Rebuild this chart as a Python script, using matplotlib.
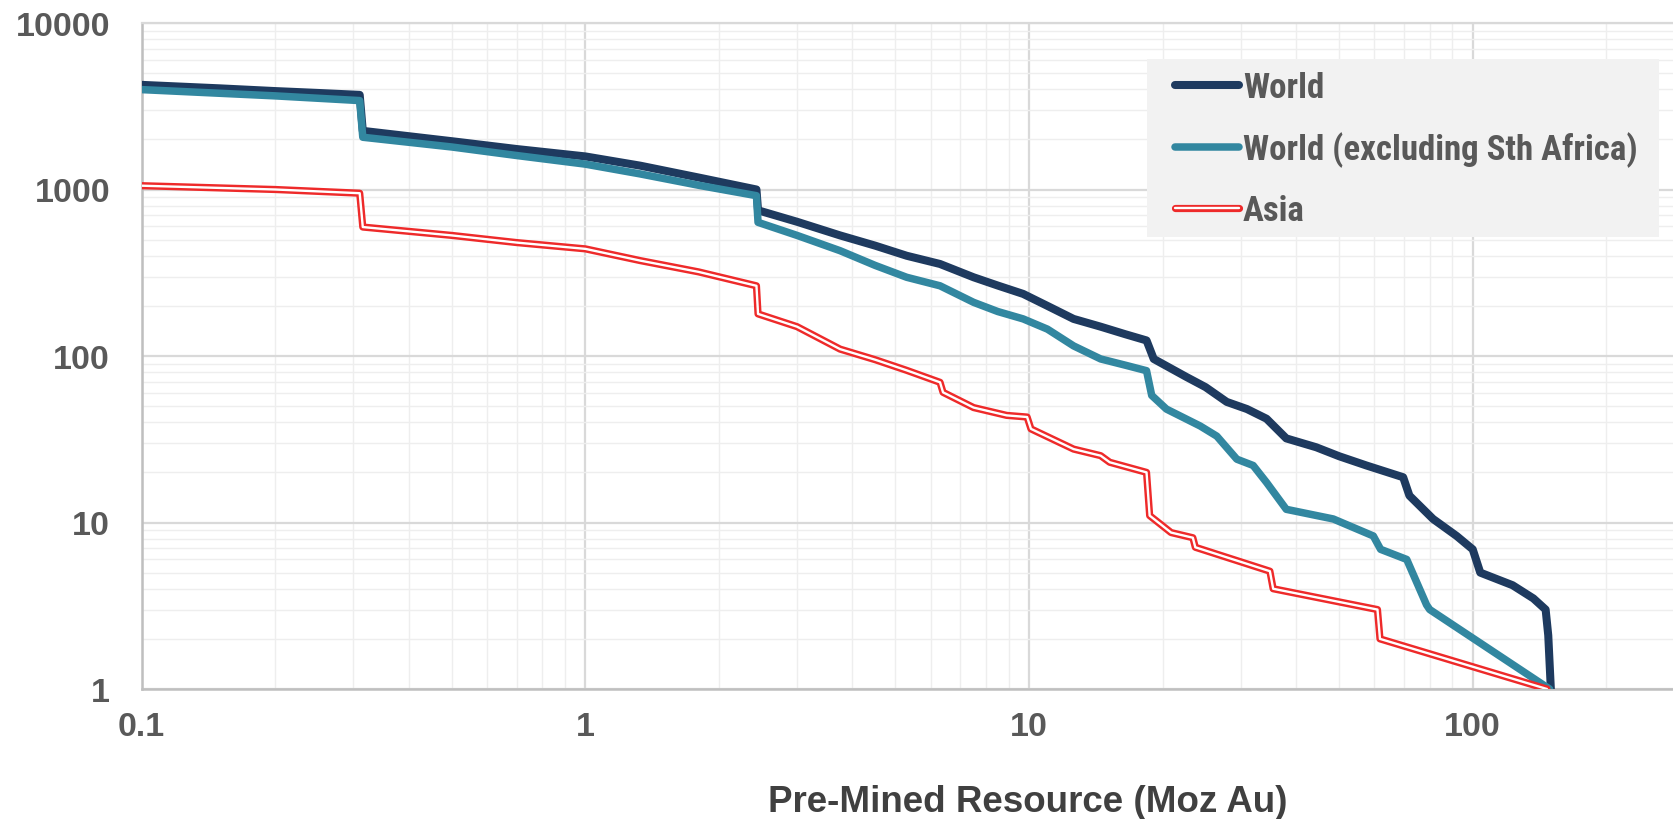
import matplotlib
matplotlib.use("Agg")
import matplotlib.pyplot as plt
from matplotlib import font_manager as fm
from matplotlib import patheffects as pe
from matplotlib.patches import Rectangle
from matplotlib.textpath import TextPath
from matplotlib.ticker import FixedLocator, FixedFormatter, NullFormatter, LogLocator

# ---------------- data ----------------
world_x = [0.1, 0.15, 0.2, 0.25, 0.31, 0.315, 0.5, 0.7, 1.0, 1.33, 1.8, 2.43, 2.45, 3.0,
           3.75, 4.5, 5.3, 6.3, 7.5, 8.5, 9.7, 11, 12.6, 14.5, 16.5, 18.4, 19.1, 22.6, 25,
           27.9, 31, 34.3, 38, 44.4, 50, 57.6, 69.7, 72, 81.4, 92, 100, 104, 123, 137,
           146, 148, 150]
world_y = [4250, 4050, 3900, 3800, 3700, 2250, 1950, 1750, 1580, 1390, 1180, 1000, 750, 640,
           530, 460, 400, 357, 297, 265, 236, 200, 167, 150, 135, 124, 96, 75, 65,
           53, 48, 42, 32, 28.3, 25, 22, 18.7, 14.5, 10.5, 8.3, 6.9, 5.0, 4.2, 3.5,
           3.0, 2.1, 1]

exsa_x = [0.1, 0.2, 0.31, 0.315, 0.5, 0.7, 1.0, 1.33, 1.8, 2.43, 2.45, 3.0, 3.75, 4.5,
          5.3, 6.3, 7.5, 8.5, 9.7, 11, 12.6, 14.5, 16.5, 18.4, 18.9, 20.4, 24.3, 26.5,
          29.4, 32, 34.3, 38, 48.5, 59.7, 62, 71, 78.7, 80, 149]
exsa_y = [3980, 3650, 3420, 2060, 1800, 1600, 1420, 1240, 1060, 918, 635, 530, 429, 350,
          297, 264, 210, 185, 167, 145, 115, 96, 88, 81.6, 58, 48, 38, 33,
          24, 22, 17.4, 12, 10.5, 8.3, 6.9, 6.0, 3.2, 3.0, 1]

asia_x = [0.1, 0.2, 0.31, 0.315, 0.5, 0.7, 1.0, 1.33, 1.8, 2.43, 2.45, 3.0, 3.75, 4.5,
          5.3, 6.3, 6.4, 7.5, 8.9, 9.9, 10.1, 12.6, 14.5, 15.2, 18.4, 18.7, 20.9, 23.4,
          23.7, 34.9, 35.5, 61, 61.8, 147]
asia_y = [1054, 1000, 950, 595, 530, 480, 440, 374, 320, 264, 179, 150, 110, 95,
          82, 69.5, 60.5, 49, 44, 43, 36.5, 27.6, 25.2, 23, 20, 11, 8.7, 8.1,
          7.1, 5.1, 4.0, 3.0, 2.0, 1]

series_labels = ["World", "World (excluding Sth Africa)", "Asia"]
x_ticks = [0.1, 1, 10, 100]
x_ticklabels = ["0.1", "1", "10", "100"]
y_ticks = [1, 10, 100, 1000, 10000]
y_ticklabels = ["1", "10", "100", "1000", "10000"]
x_label = "Pre-Mined Resource (Moz Au)"

# ---------------- styling ----------------
W, H = 1673, 820
DPI = 100
names = {f.name for f in fm.fontManager.ttflist}
base_font = "Liberation Sans" if "Liberation Sans" in names else "DejaVu Sans"
plt.rcParams["font.family"] = [base_font, "DejaVu Sans"]


def _wt(f):
    w = f.weight
    if isinstance(w, str):
        return {"bold": 700, "heavy": 800, "black": 900, "semibold": 600,
                "demibold": 600}.get(w.lower(), 400)
    return int(w)


# look for a condensed bold sans (legend text in the reference is condensed)
priority = ["Liberation Sans Narrow", "Arial Narrow", "Roboto Condensed",
            "Noto Sans", "Open Sans", "Noto Sans Condensed", "Open Sans Condensed",
            "DejaVu Sans Condensed", "DejaVu Sans"]
found = {}
for f in fm.fontManager.ttflist:
    cond = ("narrow" in f.name.lower() or "condensed" in f.name.lower()
            or f.stretch in ("condensed", "semi-condensed"))
    if cond and _wt(f) == 700 and f.style == "normal":
        found.setdefault(f.name, f.fname)
legend_fname = None
for p in priority:
    if p in found:
        legend_fname = found[p]
        break
if legend_fname is None:
    legend_fname = fm.findfont(fm.FontProperties(family=base_font, weight="bold"))

# size the legend font so the longest label is ~392 px wide, as in the reference
probe = fm.FontProperties(fname=legend_fname, size=100)
ext = TextPath((0, 0), series_labels[1], prop=probe).get_extents()
legend_size = 392 * 72 * 100 / (ext.width * DPI)
legend_size = min(legend_size, 25.5)
legend_prop = fm.FontProperties(fname=legend_fname, size=legend_size)
em_px = legend_size * DPI / 72

fig = plt.figure(figsize=(W / DPI, H / DPI), dpi=DPI)
ax_left, ax_bottom = 141.7 / W, 1 - 690 / H
ax_top = 1 - 24 / H
ax = fig.add_axes([ax_left, ax_bottom, 1.0 - ax_left, ax_top - ax_bottom])
ax.set_xscale("log")
ax.set_yscale("log")
ax.set_xlim(0.1, 10 ** (2 + (W - 1472.7) / 443.7))
ax.set_ylim(1, 10000)

# grid
ax.xaxis.set_minor_locator(LogLocator(base=10, subs=range(2, 10)))
ax.yaxis.set_minor_locator(LogLocator(base=10, subs=range(2, 10)))
ax.grid(True, which="major", color="#D9D9D9", lw=1.6, zorder=0)
ax.grid(True, which="minor", color="#EEEEEE", lw=1.0, zorder=0)
ax.set_axisbelow(True)

ax.spines["right"].set_visible(False)
ax.spines["top"].set_color("#D9D9D9")
ax.spines["top"].set_linewidth(1.6)
for s in ["left", "bottom"]:
    ax.spines[s].set_color("#BFBFBF")
    ax.spines[s].set_linewidth(1.8)

ax.xaxis.set_major_locator(FixedLocator(x_ticks))
ax.xaxis.set_major_formatter(FixedFormatter(x_ticklabels))
ax.yaxis.set_major_locator(FixedLocator(y_ticks))
ax.yaxis.set_major_formatter(FixedFormatter(y_ticklabels))
ax.xaxis.set_minor_formatter(NullFormatter())
ax.yaxis.set_minor_formatter(NullFormatter())
ax.tick_params(which="both", length=0)
ax.tick_params(axis="y", pad=22.8)
ax.tick_params(axis="x", pad=15.5)
for lab in ax.get_xticklabels() + ax.get_yticklabels():
    lab.set_fontsize(24.5)
    lab.set_fontweight("bold")
    lab.set_color("#595959")

# lines
ax.plot(world_x, world_y, color="#1E3A5F", lw=5.8, solid_joinstyle="round",
        solid_capstyle="round", label=series_labels[0], zorder=3)
ax.plot(exsa_x, exsa_y, color="#3287A0", lw=5.4, solid_joinstyle="round",
        solid_capstyle="round", label=series_labels[1], zorder=4)
ax.plot(asia_x, asia_y, color="white", lw=1.7, solid_joinstyle="round",
        solid_capstyle="round", label=series_labels[2], zorder=5,
        path_effects=[pe.Stroke(linewidth=5.2, foreground="#EE2A2A"), pe.Normal()])

# legend background box (inside the axes, above grid, below legend)
box_x0, box_x1, box_y0, box_y1 = 1147, 1659, 60, 238
bg = Rectangle((box_x0 / W, 1 - box_y1 / H), (box_x1 - box_x0) / W,
               (box_y1 - box_y0) / H, transform=fig.transFigure,
               facecolor="#F2F2F2", edgecolor="none", zorder=6, clip_on=False)
ax.add_artist(bg)

row_centers = [89, 151, 212]          # px from top
handle_x0, handle_len, text_gap = 1175, 64, 4


def make_legend(spacing, top_px):
    lg = ax.legend(loc="upper left", bbox_to_anchor=(handle_x0 / W, 1 - top_px / H),
                   bbox_transform=fig.transFigure, frameon=False, borderpad=0,
                   borderaxespad=0,
                   handlelength=handle_len / em_px, handletextpad=text_gap / em_px,
                   labelspacing=spacing, prop=legend_prop)
    for t in lg.get_texts():
        t.set_color("#595959")
    lg.set_zorder(10)
    return lg


spacing, top_px = 0.5, 70
for _ in range(3):
    leg = make_legend(spacing, top_px)
    fig.canvas.draw()
    rend = fig.canvas.get_renderer()
    cs = []
    for t in leg.get_texts():
        b = t.get_window_extent(rend)
        cs.append(H - (b.y0 + b.y1) / 2)
    actual_gap = (cs[2] - cs[0]) / 2
    want_gap = (row_centers[2] - row_centers[0]) / 2
    spacing += (want_gap - actual_gap) / em_px
    top_px += row_centers[0] - cs[0]
leg = make_legend(spacing, top_px)

fig.text(1028 / W, 1 - 812 / H, x_label, ha="center", va="baseline",
         fontsize=26.5, fontweight="bold", color="#404040")

fig.savefig("out.png", dpi=DPI)
